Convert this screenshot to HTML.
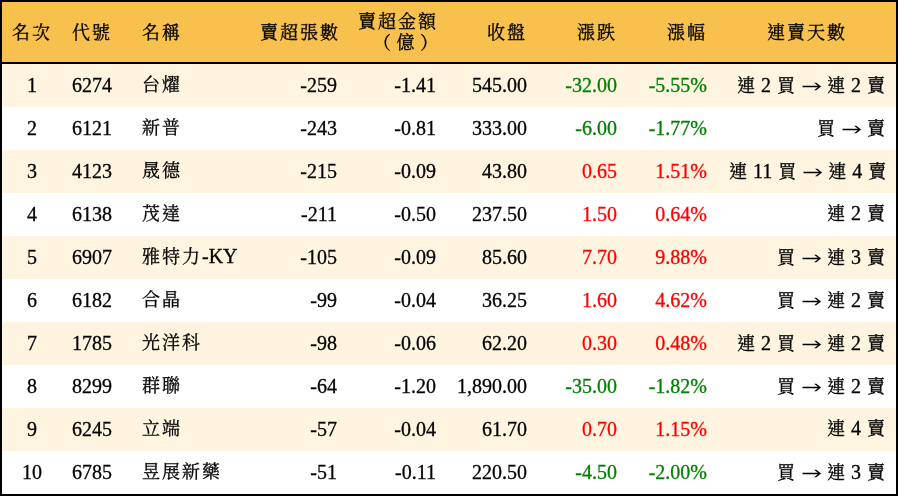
<!DOCTYPE html><html><head><meta charset="utf-8"><style>html,body{margin:0;padding:0;background:#fff;}
body{width:898px;height:496px;overflow:hidden;}
table{will-change:transform;-webkit-text-stroke:0.3px;border-collapse:separate;border-spacing:0;table-layout:fixed;width:898px;border:2px solid #000;box-sizing:border-box;
 font-family:"Liberation Serif","Noto Serif CJK TC","Noto Serif CJK SC",serif;font-size:20px;color:#000;}
col.c1{width:60px}col.c2{width:70px}col.c3{width:118px}col.c4{width:98px}col.c5{width:99px}col.c6{width:91px}col.c7{width:90px}col.c8{width:90px}col.c9{width:178px}
th,td{padding:0 10px;white-space:nowrap;overflow:visible;}
th{height:60px;background:#F8C14E;font-weight:normal;border-bottom:2px solid #000;line-height:20px;}
td{height:43px;line-height:20px;}
tbody tr:nth-child(odd) td{background:#FEF4E0;}
.a1{text-align:center}
.a2,.a3{text-align:left}
.a4,.a5,.a6,.a7,.a8,.a9{text-align:right}
.a4,.a5,.a6,.a7,.a8{padding-right:11px}
th.a9{text-align:center}
.g{color:#008000}.r{color:#FF0000}
.ar{font-family:"IPAGothic","Noto Sans CJK TC",sans-serif;position:relative;top:2px;-webkit-text-stroke:0;display:inline-block;transform:scaleX(1.06);transform-origin:1px 50%}
.k{font-size:18px;letter-spacing:2px}
.p2{font-size:18px;letter-spacing:5.5px;margin-right:-7.5px}
td{padding-bottom:2px;height:41px}
td.a9 .k{position:relative;left:1px}
</style></head><body>
<table><colgroup><col class="c1"><col class="c2"><col class="c3"><col class="c4"><col class="c5"><col class="c6"><col class="c7"><col class="c8"><col class="c9"></colgroup>
<thead><tr><th class="a1"><span class="k">名次</span></th><th class="a2"><span class="k">代號</span></th><th class="a3"><span class="k">名稱</span></th><th class="a4"><span class="k">賣超張數</span></th><th class="a5"><span class="k">賣超金額</span><br><span class="p2">（億）</span></th><th class="a6"><span class="k">收盤</span></th><th class="a7"><span class="k">漲跌</span></th><th class="a8"><span class="k">漲幅</span></th><th class="a9"><span class="k">連賣天數</span></th></tr></thead><tbody>
<tr><td class="a1">1</td><td class="a2">6274</td><td class="a3"><span class="k">台燿</span></td><td class="a4">-259</td><td class="a5">-1.41</td><td class="a6">545.00</td><td class="a7 g">-32.00</td><td class="a8 g">-5.55%</td><td class="a9"><span class="k">連</span> 2 <span class="k">買</span> <span class="ar">→</span> <span class="k">連</span> 2 <span class="k">賣</span></td></tr>
<tr><td class="a1">2</td><td class="a2">6121</td><td class="a3"><span class="k">新普</span></td><td class="a4">-243</td><td class="a5">-0.81</td><td class="a6">333.00</td><td class="a7 g">-6.00</td><td class="a8 g">-1.77%</td><td class="a9"><span class="k">買</span> <span class="ar">→</span> <span class="k">賣</span></td></tr>
<tr><td class="a1">3</td><td class="a2">4123</td><td class="a3"><span class="k">晟德</span></td><td class="a4">-215</td><td class="a5">-0.09</td><td class="a6">43.80</td><td class="a7 r">0.65</td><td class="a8 r">1.51%</td><td class="a9"><span class="k">連</span> 11 <span class="k">買</span> <span class="ar">→</span> <span class="k">連</span> 4 <span class="k">賣</span></td></tr>
<tr><td class="a1">4</td><td class="a2">6138</td><td class="a3"><span class="k">茂達</span></td><td class="a4">-211</td><td class="a5">-0.50</td><td class="a6">237.50</td><td class="a7 r">1.50</td><td class="a8 r">0.64%</td><td class="a9"><span class="k">連</span> 2 <span class="k">賣</span></td></tr>
<tr><td class="a1">5</td><td class="a2">6907</td><td class="a3"><span class="k">雅特力</span>-KY</td><td class="a4">-105</td><td class="a5">-0.09</td><td class="a6">85.60</td><td class="a7 r">7.70</td><td class="a8 r">9.88%</td><td class="a9"><span class="k">買</span> <span class="ar">→</span> <span class="k">連</span> 3 <span class="k">賣</span></td></tr>
<tr><td class="a1">6</td><td class="a2">6182</td><td class="a3"><span class="k">合晶</span></td><td class="a4">-99</td><td class="a5">-0.04</td><td class="a6">36.25</td><td class="a7 r">1.60</td><td class="a8 r">4.62%</td><td class="a9"><span class="k">買</span> <span class="ar">→</span> <span class="k">連</span> 2 <span class="k">賣</span></td></tr>
<tr><td class="a1">7</td><td class="a2">1785</td><td class="a3"><span class="k">光洋科</span></td><td class="a4">-98</td><td class="a5">-0.06</td><td class="a6">62.20</td><td class="a7 r">0.30</td><td class="a8 r">0.48%</td><td class="a9"><span class="k">連</span> 2 <span class="k">買</span> <span class="ar">→</span> <span class="k">連</span> 2 <span class="k">賣</span></td></tr>
<tr><td class="a1">8</td><td class="a2">8299</td><td class="a3"><span class="k">群聯</span></td><td class="a4">-64</td><td class="a5">-1.20</td><td class="a6">1,890.00</td><td class="a7 g">-35.00</td><td class="a8 g">-1.82%</td><td class="a9"><span class="k">買</span> <span class="ar">→</span> <span class="k">連</span> 2 <span class="k">賣</span></td></tr>
<tr><td class="a1">9</td><td class="a2">6245</td><td class="a3"><span class="k">立端</span></td><td class="a4">-57</td><td class="a5">-0.04</td><td class="a6">61.70</td><td class="a7 r">0.70</td><td class="a8 r">1.15%</td><td class="a9"><span class="k">連</span> 4 <span class="k">賣</span></td></tr>
<tr><td class="a1">10</td><td class="a2">6785</td><td class="a3"><span class="k">昱展新藥</span></td><td class="a4">-51</td><td class="a5">-0.11</td><td class="a6">220.50</td><td class="a7 g">-4.50</td><td class="a8 g">-2.00%</td><td class="a9"><span class="k">買</span> <span class="ar">→</span> <span class="k">連</span> 3 <span class="k">賣</span></td></tr>
</tbody></table></body></html>
